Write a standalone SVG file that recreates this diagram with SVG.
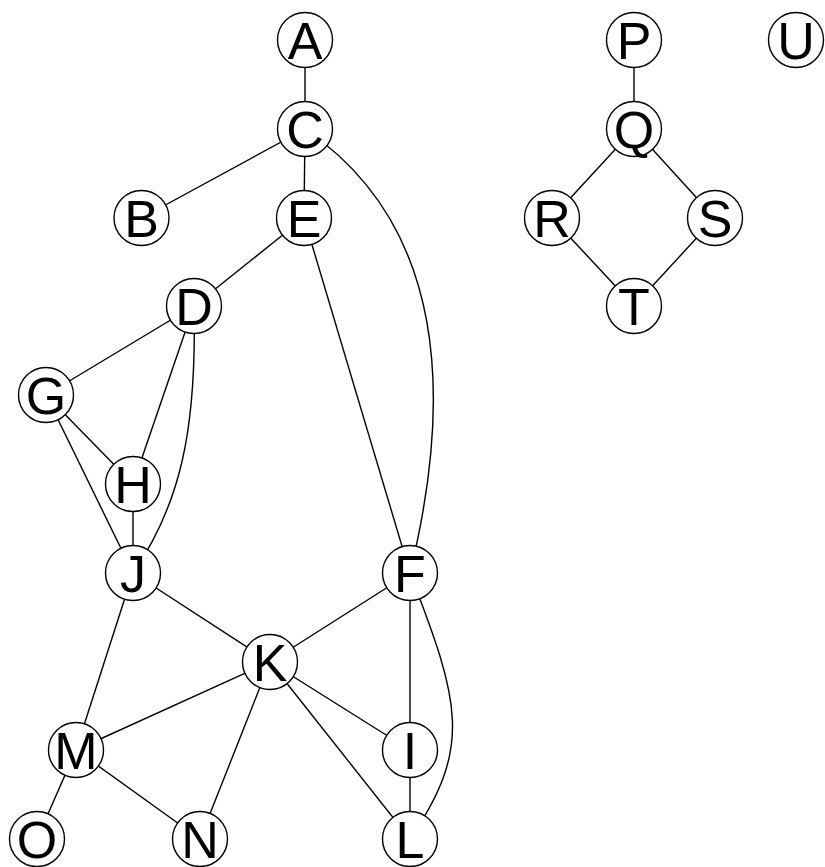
<svg xmlns="http://www.w3.org/2000/svg" width="825" height="867" viewBox="0 0 825 867">
<style>
.e{stroke:#000;stroke-width:1.4;fill:none}
.n circle{fill:#fff;stroke:#000;stroke-width:1.4}
.n text{font-family:"Liberation Sans",Arial,sans-serif;font-size:52px;text-anchor:middle;fill:#000}
</style>
<rect width="825" height="867" fill="#fff"/>
<g id="edges">
<line class="e" x1="305" y1="40" x2="305" y2="129"/>
<line class="e" x1="305" y1="129" x2="141.5" y2="218"/>
<line class="e" x1="305" y1="129" x2="304" y2="218"/>
<path class="e" d="M305,129 C462,236 445,430 410,573"/>
<line class="e" x1="304" y1="218" x2="194" y2="306"/>
<line class="e" x1="304" y1="218" x2="410" y2="573"/>
<line class="e" x1="194" y1="306" x2="46" y2="395"/>
<line class="e" x1="194" y1="306" x2="133" y2="484"/>
<path class="e" d="M194,306 C197,430 180,505 133,573"/>
<line class="e" x1="46" y1="395" x2="133" y2="484"/>
<line class="e" x1="46" y1="395" x2="133" y2="573"/>
<line class="e" x1="133" y1="484" x2="133" y2="573"/>
<line class="e" x1="133" y1="573" x2="270" y2="662"/>
<line class="e" x1="133" y1="573" x2="76" y2="750"/>
<line class="e" x1="410" y1="573" x2="270" y2="662"/>
<line class="e" x1="410" y1="573" x2="410" y2="750"/>
<path class="e" d="M410,573 C460,702 473,747 410,839"/>
<line class="e" x1="270" y1="662" x2="76" y2="750"/>
<line class="e" x1="270" y1="662" x2="200" y2="839"/>
<line class="e" x1="270" y1="662" x2="410" y2="750"/>
<line class="e" x1="270" y1="662" x2="410" y2="839"/>
<line class="e" x1="76" y1="750" x2="37" y2="839"/>
<line class="e" x1="76" y1="750" x2="200" y2="839"/>
<line class="e" x1="410" y1="750" x2="410" y2="839"/>
<line class="e" x1="634" y1="40" x2="634" y2="129"/>
<line class="e" x1="634" y1="129" x2="552" y2="218"/>
<line class="e" x1="634" y1="129" x2="715" y2="218"/>
<line class="e" x1="552" y1="218" x2="634" y2="306"/>
<line class="e" x1="715" y1="218" x2="634" y2="306"/>
</g>
<g id="A" class="n"><circle cx="305" cy="40" r="27.5"/><text x="305" y="58.6">A</text></g>
<g id="C" class="n"><circle cx="305" cy="129" r="27.5"/><text x="305" y="147.6">C</text></g>
<g id="B" class="n"><circle cx="141.5" cy="218" r="27.5"/><text x="141.5" y="236.6">B</text></g>
<g id="E" class="n"><circle cx="304" cy="218" r="27.5"/><text x="304" y="236.6">E</text></g>
<g id="D" class="n"><circle cx="194" cy="306" r="27.5"/><text x="194" y="324.6">D</text></g>
<g id="G" class="n"><circle cx="46" cy="395" r="27.5"/><text x="46" y="413.6">G</text></g>
<g id="H" class="n"><circle cx="133" cy="484" r="27.5"/><text x="133" y="502.6">H</text></g>
<g id="J" class="n"><circle cx="133" cy="573" r="27.5"/><text x="133" y="591.6">J</text></g>
<g id="F" class="n"><circle cx="410" cy="573" r="27.5"/><text x="410" y="591.6">F</text></g>
<g id="K" class="n"><circle cx="270" cy="662" r="27.5"/><text x="270" y="680.6">K</text></g>
<g id="M" class="n"><circle cx="76" cy="750" r="27.5"/><text x="76" y="768.6">M</text></g>
<g id="I" class="n"><circle cx="410" cy="750" r="27.5"/><text x="410" y="768.6">I</text></g>
<g id="O" class="n"><circle cx="37" cy="839" r="27.5"/><text x="37" y="857.6">O</text></g>
<g id="N" class="n"><circle cx="200" cy="839" r="27.5"/><text x="200" y="857.6">N</text></g>
<g id="L" class="n"><circle cx="410" cy="839" r="27.5"/><text x="410" y="857.6">L</text></g>
<g id="P" class="n"><circle cx="634" cy="40" r="27.5"/><text x="634" y="58.6">P</text></g>
<g id="U" class="n"><circle cx="796" cy="40" r="27.5"/><text x="796" y="58.6">U</text></g>
<g id="Q" class="n"><circle cx="634" cy="129" r="27.5"/><text x="634" y="147.6">Q</text></g>
<g id="R" class="n"><circle cx="552" cy="218" r="27.5"/><text x="552" y="236.6">R</text></g>
<g id="S" class="n"><circle cx="715" cy="218" r="27.5"/><text x="715" y="236.6">S</text></g>
<g id="T" class="n"><circle cx="634" cy="306" r="27.5"/><text x="634" y="324.6">T</text></g>
</svg>
